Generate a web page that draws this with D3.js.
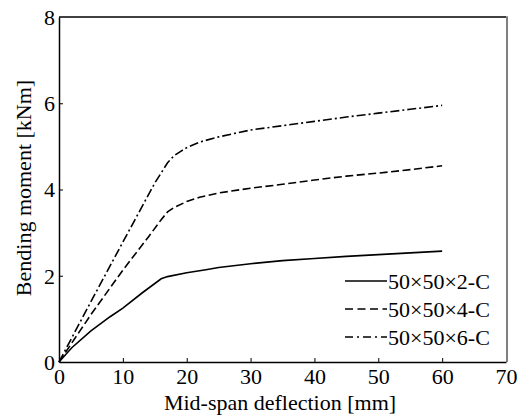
<!DOCTYPE html>
<html><head><meta charset="utf-8">
<script src="https://cdn.jsdelivr.net/npm/d3@7"></script>
<style>body{margin:0;background:#fff}svg{display:block}</style>
</head><body><svg id="c" width="525" height="417"></svg>
<script>
const seriesNames = ["50×50×2-C", "50×50×4-C", "50×50×6-C"];
const s2x = [0,2,5,8,10,13,16,17,20,23,25,30,35,40,45,50,55,60];
const s2y = [0,0.33,0.72,1.05,1.25,1.6,1.93,1.98,2.07,2.14,2.19,2.28,2.35,2.40,2.45,2.49,2.53,2.57];
const s4x = [0,5,10,14,16,17,18,20,22,25,30,35,40,45,50,55,60];
const s4y = [0,1.1,2.13,2.9,3.3,3.48,3.58,3.72,3.82,3.92,4.03,4.12,4.22,4.31,4.38,4.46,4.55];
const s6x = [0,5,10,15,17,18,19,20,22,25,30,35,40,45,50,55,60];
const s6y = [0,1.4,2.78,4.15,4.62,4.78,4.88,4.97,5.1,5.22,5.38,5.48,5.58,5.68,5.77,5.86,5.95];
const xTicks = [0,10,20,30,40,50,60,70];
const yTicks = [0,2,4,6,8];

const FONT = '"Liberation Serif", "Times New Roman", Times, serif';
const svg = d3.select("#c");
const L=59, R=506, T=17, B=362;
const x = d3.scaleLinear().domain([0,70]).range([L,R]);
const y = d3.scaleLinear().domain([0,8]).range([B,T]);

// frame
svg.append("line").attr("x1",L).attr("x2",R).attr("y1",T).attr("y2",T).attr("stroke","#000").attr("stroke-width",1.5);
svg.append("line").attr("x1",R+1).attr("x2",R+1).attr("y1",T-0.75).attr("y2",B).attr("stroke","#808080").attr("stroke-width",2);

const xa = svg.append("g").attr("transform",`translate(0,${B})`)
  .call(d3.axisBottom(x).tickValues(xTicks).tickSizeInner(-4).tickSizeOuter(0));
const ya = svg.append("g").attr("transform",`translate(${L},0)`)
  .call(d3.axisLeft(y).tickValues(yTicks).tickSizeInner(-4).tickSizeOuter(0));
[xa,ya].forEach(a=>{
  a.attr("font-family",null).attr("font-size",null);
  a.select(".domain").attr("stroke","#000").attr("stroke-width",1.5);
  a.selectAll(".tick line").attr("stroke","#000").attr("stroke-width",1);
  a.selectAll(".tick text").style("font-family",FONT).style("font-size","22px").attr("fill","#000");
});
xa.selectAll(".tick text").attr("y",22).attr("dy",null);
ya.selectAll(".tick text").attr("x",-4).attr("dy","0.33em");
xa.selectAll(".tick line").filter(d=>d===0||d===70).remove();
ya.selectAll(".tick line").filter(d=>d===0||d===8).remove();

const styles = [null, "8,3.5", "9,3,2,3"];
const data = [[s2x,s2y],[s4x,s4y],[s6x,s6y]];
const line = d3.line().x(d=>x(d[0])).y(d=>y(d[1]));
data.forEach((s,i)=>{
  const pts = s[0].map((v,j)=>[v,s[1][j]]);
  svg.append("path").attr("d",line(pts)).attr("fill","none").attr("stroke","#000")
    .attr("stroke-width",1.6).attr("stroke-dasharray",styles[i]);
});

// legend
const ly = [281,309,337];
seriesNames.forEach((n,i)=>{
  svg.append("line").attr("x1",345).attr("x2",387).attr("y1",ly[i]).attr("y2",ly[i])
    .attr("stroke","#000").attr("stroke-width",1.6).attr("stroke-dasharray",i===0?null:(i===1?"8,4.5":"8,4,2,4"));
  svg.append("text").attr("x",388).attr("y",ly[i]+8).style("font-family",FONT).style("font-size","22px").text(n);
});

svg.append("text").attr("x",280).attr("y",410).attr("text-anchor","middle").style("font-family",FONT).style("font-size","22px").text("Mid-span deflection [mm]");
svg.append("text").attr("transform",`translate(31,${188}) rotate(-90)`).attr("text-anchor","middle").style("font-family",FONT).style("font-size","22px").text("Bending moment [kNm]");
</script></body></html>
